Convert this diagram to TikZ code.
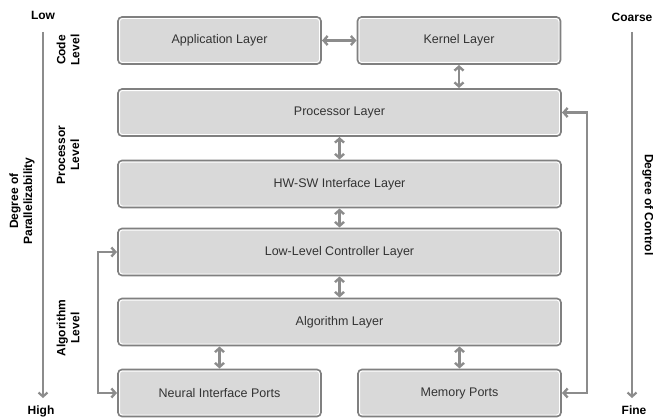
\documentclass[tikz,border=0pt]{standalone}
\usepackage{fontspec}
\setmainfont{Liberation Sans}
\usetikzlibrary{arrows.meta}

\begin{document}
\begin{tikzpicture}[x=1pt,y=-1pt,font=\fontsize{12.5}{15}\selectfont]
		
		\useasboundingbox (0,0) rectangle (653,420);
		
		\definecolor{BoxGray}{rgb}{0.85,0.85,0.85}
		\definecolor{LineGray}{rgb}{0.5,0.5,0.5}
		\definecolor{ArrowGray}{rgb}{0.55,0.55,0.55}
		\definecolor{TextGray}{rgb}{0.2,0.2,0.2}
		
		\tikzset{
			layerBox/.style={
				draw=LineGray,
				line width=1.6pt,
				fill=BoxGray,
				rounded corners=4pt,
				minimum width=#1,
				minimum height=47pt,
				inner sep=0,
				outer sep=0pt,
				text=TextGray,
				path picture={
					\draw[white,line width=1.2pt,rounded corners=3pt]
						([shift={(1.4pt,-1.4pt)}]path picture bounding box.north west) rectangle
						([shift={(-1.4pt,1.4pt)}]path picture bounding box.south east);
				},
			},
			layerBox/.default=203pt,
			layerArrow/.style={
				draw=ArrowGray,
				line width=2.4pt,
				arrows={Straight Barb[length=4pt,width=9pt]-Straight Barb[length=4pt,width=9pt]},
				shorten <=1pt, shorten >=1pt,
			},
			axisArrow/.style={
				draw=ArrowGray,
				line width=2.2pt,
				arrows={-Straight Barb[length=4pt,width=9pt]},
			},
			axisLabel/.style={
				font=\bfseries\fontsize{12}{14}\selectfont,
				inner sep=0,
				align=center,
			},
		}
		
		% Layers
		\node[layerBox] (app) at (219.5,40.5) {Application Layer};
		\node[layerBox] (kernel) at (459,40.5) {Kernel Layer};
		\node[layerBox=443pt] (proc) at (339.5,112.5) {Processor Layer};
		\node[layerBox=443pt] (hwsw) at (339.5,184) {HW-SW Interface Layer};
		\node[layerBox=443pt] (llc) at (339.5,252) {Low-Level Controller Layer};
		\node[layerBox=443pt] (algo) at (339.5,322) {Algorithm Layer};
		\node[layerBox] (neural) at (219.5,393) {Neural Interface Ports};
		\node[layerBox] (mem) at (459.5,393) {Memory Ports};
		
		% Links
		\draw[layerArrow] (app) -- (kernel);
		\draw[layerArrow] (kernel.south) -- (kernel.south |- proc.north);
		\draw[layerArrow] (proc) -- (hwsw);
		\draw[layerArrow] (hwsw) -- (llc);
		\draw[layerArrow] (llc) -- (algo);
		\draw[layerArrow] (neural.north) -- (neural.north |- algo.south);
		\draw[layerArrow] (mem.north) -- (mem.north |- algo.south);
		
		% Side loops
		\draw[layerArrow] (llc.west) -- ++(-20,0) |- (neural.west);
		\draw[layerArrow] (proc.east) -- ++(26,0) |- (mem.east);
		
		% Parallelizability axis
		\node[axisLabel] (low) at (43,15) {Low};
		\node[axisLabel] (high) at (41,411) {High};
		\coordinate (parTop) at (43,32);
		\coordinate (parBot) at (43,398);
		\draw[axisArrow] (parTop) -- (parBot);
		\node[axisLabel,rotate=90] (par) at (22,201) {Degree of\\Parallelizability};
		
		% Levels
		\node[axisLabel,rotate=90] (code) at (68,50) {Code\\Level};
		\node[axisLabel,rotate=90] (procLvl) at (68,155) {Processor\\Level};
		\node[axisLabel,rotate=90] (algoLvl) at (68,328) {Algorithm\\Level};
		
		% Control axis
		\node[axisLabel] (coarse) at (632,17) {Coarse};
		\node[axisLabel] (fine) at (634,410) {Fine};
		\coordinate (ctrlTop) at (632,32);
		\coordinate (ctrlBot) at (632,398);
		\draw[axisArrow] (ctrlTop) -- (ctrlBot);
		\node[axisLabel,rotate=-90] (ctrl) at (648,205) {Degree of Control};
		
	\end{tikzpicture}
\end{document}
